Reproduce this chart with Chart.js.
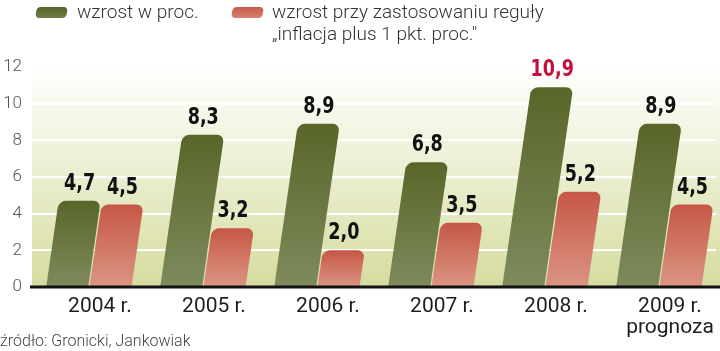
<!DOCTYPE html>
<html lang="pl">
<head>
<meta charset="UTF-8">
<title>Wzrost w proc.</title>
<script src="https://cdn.jsdelivr.net/npm/chart.js@4.4.1/dist/chart.umd.min.js"></script>
<style>
    body { margin: 0; background: #fff; }
    .wrap { position: relative; width: 720px; height: 351px; overflow: hidden; font-family: Roboto, "Open Sans", sans-serif; }
    canvas { position: absolute; left: 0; top: 0; }
    .legend { position: absolute; font-size: 19px; font-weight: 300; color: #333; line-height: 22px; }
    .swatch { position: absolute; width: 31px; height: 11px; border-radius: 4px; transform: skewX(-10deg); }
    .source { position: absolute; left: 0; top: 331px; font-size: 16px; font-weight: 300; color: #444; }
</style>
</head>
<body>
<div class="wrap">
    <canvas id="chart" width="720" height="351"></canvas>
    <div class="swatch" style="left:36px; top:7px; background: linear-gradient(#56652a, #6f7c45);"></div>
    <div class="legend" style="left:77px; top:1px;">wzrost w proc.</div>
    <div class="swatch" style="left:232px; top:7px; background: linear-gradient(#c75a4a, #d88271);"></div>
    <div class="legend" style="left:272px; top:1px;">wzrost przy zastosowaniu reguły<br>&bdquo;inflacja plus 1 pkt. proc."</div>
    <div class="source">źródło: Gronicki, Jankowiak</div>
</div>

<script>
    // dane
    const categories = ['2004 r.', '2005 r.', '2006 r.', '2007 r.', '2008 r.', ['2009 r.', 'prognoza']];
    const growth = [4.7, 8.3, 8.9, 6.8, 10.9, 8.9];
    const ruleGrowth = [4.5, 3.2, 2.0, 3.5, 5.2, 4.5];
    const yMin = 0, yMax = 12, yStep = 2;
    const highlightIndex = 4; // 2008 r. - czerwona etykieta

    const SHEAR = 0.145;
    const barColors = [
        ['#586629', '#7e8a5d'],
        ['#c65746', '#db9483']
    ];

    function fmt(v) {
        return v.toFixed(1).replace('.', ',');
    }

    // tlo pod wykresem
    const backgroundPlugin = {
        id: 'bg',
        beforeDraw(chart) {
            const { ctx, chartArea, scales } = chart;
            const zero = scales.y.getPixelForValue(0);
            const g = ctx.createLinearGradient(0, chartArea.top, 0, zero);
            g.addColorStop(0, '#ffffff');
            g.addColorStop(1, '#d6dc9f');
            ctx.save();
            ctx.fillStyle = g;
            ctx.fillRect(chartArea.left, chartArea.top, chart.width - chartArea.left, zero - chartArea.top);
            ctx.restore();
        }
    };

    // pochyle slupki z zaokraglona gora
    const slantBarsPlugin = {
        id: 'slantBars',
        afterDatasetsDraw(chart) {
            const ctx = chart.ctx;
            chart.data.datasets.forEach((ds, di) => {
                const meta = chart.getDatasetMeta(di);
                meta.data.forEach((el) => {
                    const left = el.x - el.width / 2;
                    const top = el.y, base = el.base;
                    const h = base - top;
                    ctx.save();
                    ctx.transform(1, 0, -SHEAR, 1, SHEAR * base, 0);
                    const g = ctx.createLinearGradient(0, top, 0, base);
                    g.addColorStop(0, barColors[di][0]);
                    g.addColorStop(1, barColors[di][1]);
                    ctx.fillStyle = g;
                    ctx.beginPath();
                    ctx.roundRect(left, top, el.width, h, [7, 7, 0, 0]);
                    ctx.fill();
                    ctx.restore();
                });
            });
        },
        afterDraw(chart) {
            const { ctx, scales } = chart;
            // etykiety wartosci (waskie, pogrubione)
            chart.data.datasets.forEach((ds, di) => {
                const meta = chart.getDatasetMeta(di);
                meta.data.forEach((el, i) => {
                    const cx = el.x + SHEAR * (el.base - el.y);
                    ctx.save();
                    ctx.translate(cx, el.y - 11);
                    ctx.scale(0.85, 1);
                    ctx.font = 'bold 23px "DejaVu Sans Condensed", sans-serif';
                    ctx.textAlign = 'center';
                    ctx.textBaseline = 'alphabetic';
                    ctx.fillStyle = (di === 0 && i === highlightIndex) ? '#c4103d' : '#111';
                    ctx.fillText(fmt(ds.data[i]), 0, 0);
                    ctx.restore();
                });
            });
            // os X
            const zero = scales.y.getPixelForValue(0);
            ctx.save();
            ctx.strokeStyle = '#111';
            ctx.lineWidth = 3;
            ctx.beginPath();
            ctx.moveTo(chart.chartArea.left - 2, zero);
            ctx.lineTo(chart.width, zero);
            ctx.stroke();
            ctx.restore();
        }
    };

    new Chart(document.getElementById('chart'), {
        type: 'bar',
        data: {
            labels: categories,
            datasets: [
                { label: 'wzrost w proc.', data: growth, backgroundColor: 'rgba(0,0,0,0)', borderWidth: 0 },
                { label: 'wzrost przy zastosowaniu reguły', data: ruleGrowth, backgroundColor: 'rgba(0,0,0,0)', borderWidth: 0 }
            ]
        },
        options: {
            responsive: false,
            animation: false,
            categoryPercentage: 0.76,
            barPercentage: 0.97,
            layout: { padding: { top: 67, right: 4, left: 0, bottom: 0 } },
            plugins: {
                legend: { display: false },
                tooltip: { enabled: false }
            },
            scales: {
                x: {
                    grid: { display: false, drawTicks: false },
                    border: { display: false },
                    ticks: {
                        color: '#1e1e1e',
                        font: { family: 'Roboto, "Open Sans", sans-serif', size: 21, lineHeight: 1.0 },
                        labelOffset: 11,
                        padding: 9,
                        maxRotation: 0
                    },
                    afterFit(scale) { scale.height = 64; }
                },
                y: {
                    min: yMin,
                    max: yMax,
                    z: 1,
                    grid: { color: '#ffffff', lineWidth: 2, drawTicks: false },
                    border: { display: false },
                    ticks: {
                        stepSize: yStep,
                        color: '#555',
                        padding: 10,
                        font: { family: 'Roboto, "Open Sans", sans-serif', size: 17, weight: 300 }
                    },
                    afterFit(scale) { scale.width = 32; }
                }
            }
        },
        plugins: [backgroundPlugin, slantBarsPlugin]
    });
</script>
</body>
</html>
